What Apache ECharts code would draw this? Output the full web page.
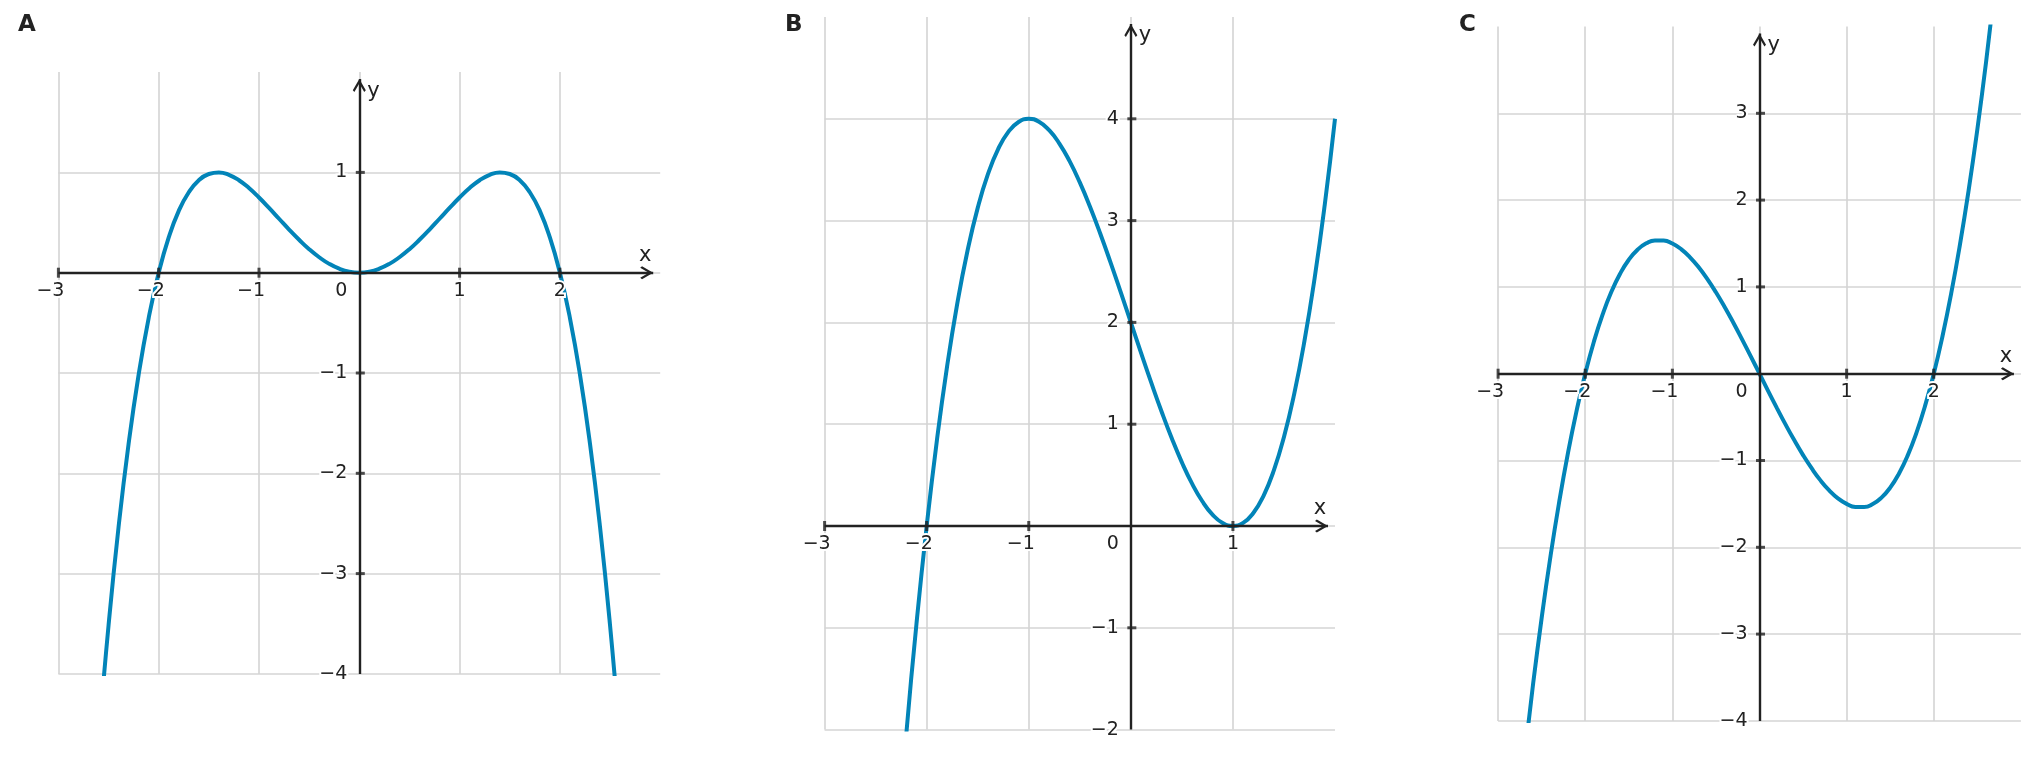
<!DOCTYPE html>
<html>
<head>
<meta charset="utf-8">
<script src="https://cdn.jsdelivr.net/npm/echarts@6/dist/echarts.min.js"></script>
<style>
html,body{margin:0;padding:0;background:#fff;}
#c{width:2036px;height:758px;}
</style>
</head>
<body>
<div id="c"></div>
<script>
// ---------- DATA ----------
const panelLabels = ['A', 'B', 'C'];

const curveA = [
  [-2.6,-4.664],[-2.5,-3.516],[-2.4,-2.534],[-2.3,-1.706],[-2.2,-1.016],[-2.1,-0.452],
  [-2.0,0],[-1.9,0.352],[-1.8,0.616],[-1.7,0.802],[-1.6,0.922],[-1.5,0.984],[-1.4,1.0],
  [-1.3,0.976],[-1.2,0.922],[-1.1,0.844],[-1.0,0.75],[-0.9,0.646],[-0.8,0.538],[-0.7,0.43],
  [-0.6,0.328],[-0.5,0.234],[-0.4,0.154],[-0.3,0.088],[-0.2,0.04],[-0.1,0.01],[0,0],
  [0.1,0.01],[0.2,0.04],[0.3,0.088],[0.4,0.154],[0.5,0.234],[0.6,0.328],[0.7,0.43],
  [0.8,0.538],[0.9,0.646],[1.0,0.75],[1.1,0.844],[1.2,0.922],[1.3,0.976],[1.4,1.0],
  [1.5,0.984],[1.6,0.922],[1.7,0.802],[1.8,0.616],[1.9,0.352],[2.0,0],[2.1,-0.452],
  [2.2,-1.016],[2.3,-1.706],[2.4,-2.534],[2.5,-3.516],[2.6,-4.664]
];

const curveB = [
  [-2.3,-3.267],[-2.2,-2.048],[-2.1,-0.961],[-2.0,0],[-1.9,0.841],[-1.8,1.568],[-1.7,2.187],
  [-1.6,2.704],[-1.5,3.125],[-1.4,3.456],[-1.3,3.703],[-1.2,3.872],[-1.1,3.969],[-1.0,4.0],
  [-0.9,3.971],[-0.8,3.888],[-0.7,3.757],[-0.6,3.584],[-0.5,3.375],[-0.4,3.136],[-0.3,2.873],
  [-0.2,2.592],[-0.1,2.299],[0,2.0],[0.1,1.701],[0.2,1.408],[0.3,1.127],[0.4,0.864],
  [0.5,0.625],[0.6,0.416],[0.7,0.243],[0.8,0.112],[0.9,0.029],[1.0,0],[1.1,0.031],
  [1.2,0.128],[1.3,0.297],[1.4,0.544],[1.5,0.875],[1.6,1.296],[1.7,1.813],[1.8,2.432],
  [1.9,3.159],[2.0,4.0]
];

const curveC = [
  [-2.7,-4.442],[-2.6,-3.588],[-2.5,-2.813],[-2.4,-2.112],[-2.3,-1.484],[-2.2,-0.924],
  [-2.1,-0.431],[-2.0,0],[-1.9,0.371],[-1.8,0.684],[-1.7,0.944],[-1.6,1.152],[-1.5,1.313],
  [-1.4,1.428],[-1.3,1.502],[-1.2,1.536],[-1.1,1.535],[-1.0,1.5],[-0.9,1.436],[-0.8,1.344],
  [-0.7,1.229],[-0.6,1.092],[-0.5,0.938],[-0.4,0.768],[-0.3,0.587],[-0.2,0.396],[-0.1,0.2],
  [0,0],[0.1,-0.2],[0.2,-0.396],[0.3,-0.587],[0.4,-0.768],[0.5,-0.938],[0.6,-1.092],
  [0.7,-1.229],[0.8,-1.344],[0.9,-1.436],[1.0,-1.5],[1.1,-1.535],[1.2,-1.536],[1.3,-1.502],
  [1.4,-1.428],[1.5,-1.313],[1.6,-1.152],[1.7,-0.944],[1.8,-0.684],[1.9,-0.371],[2.0,0],
  [2.1,0.431],[2.2,0.924],[2.3,1.484],[2.4,2.112],[2.5,2.813],[2.6,3.588],[2.7,4.442]
];

const xRangeA = [-3, 3], yRangeA = [-4, 2];
const xRangeB = [-3, 2], yRangeB = [-2, 5];
const xRangeC = [-3, 3], yRangeC = [-4, 4];

const xTicksA = [-3, -2, -1, 1, 2];
const yTicksA = [-3, -2, -1, 1];
const xTicksB = [-3, -2, -1, 1];
const yTicksB = [-1, 1, 2, 3, 4];
const xTicksC = [-3, -2, -1, 1, 2];
const yTicksC = [-3, -2, -1, 1, 2, 3];

const xLabelsA = [-3, -2, -1, 0, 1, 2];
const yLabelsA = [-4, -3, -2, -1, 1];
const xLabelsB = [-3, -2, -1, 0, 1];
const yLabelsB = [-2, -1, 1, 2, 3, 4];
const xLabelsC = [-3, -2, -1, 0, 1, 2];
const yLabelsC = [-4, -3, -2, -1, 1, 2, 3];

// ---------- LAYOUT / STYLE ----------
const FONT = 'DejaVu Sans';
const INK = '#222222';
const GRIDC = '#d4d4d4';
const CURVE = '#0284b8';
const FS = 19;
const MINUS_W = 0.838 * FS;
const INSET = 7;
const CHEVRON = 'path://M50 0 L100 86 L88 100 L50 34 L12 100 L0 86 Z';

const panels = [
  {left: 58.4, top: 72.1, width: 601.8, height: 601.8, titleLeft: 18,
   xr: xRangeA, yr: yRangeA, curve: curveA, xt: xTicksA, yt: yTicksA, xl: xLabelsA, yl: yLabelsA},
  {left: 824.6, top: 17, width: 510.4, height: 712.6, titleLeft: 785,
   xr: xRangeB, yr: yRangeB, curve: curveB, xt: xTicksB, yt: yTicksB, xl: xLabelsB, yl: yLabelsB},
  {left: 1498.1, top: 26.5, width: 522.8, height: 694.4, titleLeft: 1459,
   xr: xRangeC, yr: yRangeC, curve: curveC, xt: xTicksC, yt: yTicksC, xl: xLabelsC, yl: yLabelsC}
];

function isInt(v) { return Math.abs(v - Math.round(v)) < 1e-6; }
function xFmt(list) {
  return function (v) {
    if (!isInt(v)) return '';
    const r = Math.round(v);
    if (list.indexOf(r) < 0) return '';
    if (r === 0) return '{z|0}';
    if (r < 0) return '{n|\u2212' + (-r) + '}';
    return '{p|' + r + '}';
  };
}
function yFmt(list) {
  return function (v) {
    if (!isInt(v)) return '';
    const r = Math.round(v);
    if (list.indexOf(r) < 0) return '';
    return r < 0 ? '\u2212' + (-r) : String(r);
  };
}
const tokenBase = {fontFamily: FONT, fontSize: FS, color: INK, textBorderColor: '#fff', textBorderWidth: 4};

const grids = [], xAxes = [], yAxes = [], series = [];

// main grids: gridlines + curve
panels.forEach(function (p, i) {
  grids.push({left: p.left, top: p.top, width: p.width, height: p.height});
  const common = {
    type: 'value', gridIndex: i, interval: 1, z: 0,
    axisLine: {show: false}, axisTick: {show: false}, axisLabel: {show: false},
    splitLine: {show: true, showMinLine: true, showMaxLine: false, lineStyle: {color: GRIDC, width: 1.6}}
  };
  xAxes.push(Object.assign({}, common, {min: p.xr[0], max: p.xr[1]}));
  yAxes.push(Object.assign({}, common, {min: p.yr[0], max: p.yr[1]}));
});

// axis grids: black axes with arrows, labels and names, placed through the origin
panels.forEach(function (p, i) {
  const w2 = p.width - INSET, h2 = p.height - INSET;
  grids.push({left: p.left, top: p.top + INSET, width: w2, height: h2});
  const unitX = p.width / (p.xr[1] - p.xr[0]);
  const unitY = p.height / (p.yr[1] - p.yr[0]);
  const xMax2 = p.xr[0] + w2 / unitX;
  const yMax2 = p.yr[0] + h2 / unitY;
  const line = {onZero: false, symbol: ['none', CHEVRON], symbolSize: [13, 13], symbolOffset: [0, -6.5],
                lineStyle: {color: INK, width: 2.4, cap: 'butt'}};
  xAxes.push({
    type: 'value', gridIndex: i + 3, position: 'bottom', offset: p.yr[0] * unitY,
    min: p.xr[0], max: xMax2, interval: 1, z: 5,
    axisLine: line, axisTick: {show: false}, splitLine: {show: false},
    axisLabel: Object.assign({margin: 9, formatter: xFmt(p.xl), showMinLabel: true, showMaxLabel: true,
      rich: {
        n: Object.assign({padding: [0, MINUS_W, 0, 0]}, tokenBase),
        z: Object.assign({padding: [0, 36, 0, 0]}, tokenBase),
        p: Object.assign({}, tokenBase)
      }}, tokenBase),
    name: 'x', nameLocation: 'end', nameGap: -8,
    nameTextStyle: {fontFamily: FONT, fontSize: 21, color: INK, align: 'center', verticalAlign: 'bottom', padding: [0, 0, 7, 0]}
  });
  yAxes.push({
    type: 'value', gridIndex: i + 3, position: 'left', offset: p.xr[0] * unitX,
    min: p.yr[0], max: yMax2, interval: 1, z: 5,
    axisLine: line, axisTick: {show: false}, splitLine: {show: false},
    axisLabel: Object.assign({margin: 12, formatter: yFmt(p.yl), showMinLabel: true, showMaxLabel: true}, tokenBase),
    name: 'y', nameLocation: 'end', nameGap: -12,
    nameTextStyle: {fontFamily: FONT, fontSize: 21, color: INK, align: 'left', verticalAlign: 'middle', padding: [0, 0, 0, 8]}
  });
});

panels.forEach(function (p, i) {
  series.push({
    type: 'line', xAxisIndex: i, yAxisIndex: i, data: p.curve, smooth: true,
    showSymbol: false, clip: true, z: 2, silent: true,
    lineStyle: {color: CURVE, width: 4}
  });
  series.push({
    type: 'scatter', xAxisIndex: i, yAxisIndex: i, clip: false, z: 7, silent: true,
    data: p.xt.map(function (t) { return [t, 0]; }),
    symbol: 'rect', symbolSize: [3, 10], itemStyle: {color: INK}
  });
  series.push({
    type: 'scatter', xAxisIndex: i, yAxisIndex: i, clip: false, z: 7, silent: true,
    data: p.yt.map(function (t) { return [0, t]; }),
    symbol: 'rect', symbolSize: [9, 3], symbolOffset: [1, 0], itemStyle: {color: INK}
  });
});

const chart = echarts.init(document.getElementById('c'));
chart.setOption({
  backgroundColor: '#ffffff',
  animation: false,
  title: panels.map(function (p, i) {
    return {text: panelLabels[i], left: p.titleLeft, top: 14, padding: 0,
            textStyle: {fontFamily: FONT, fontSize: 23, fontWeight: 'bold', color: INK}};
  }),
  grid: grids,
  xAxis: xAxes,
  yAxis: yAxes,
  series: series
});
</script>
</body>
</html>
